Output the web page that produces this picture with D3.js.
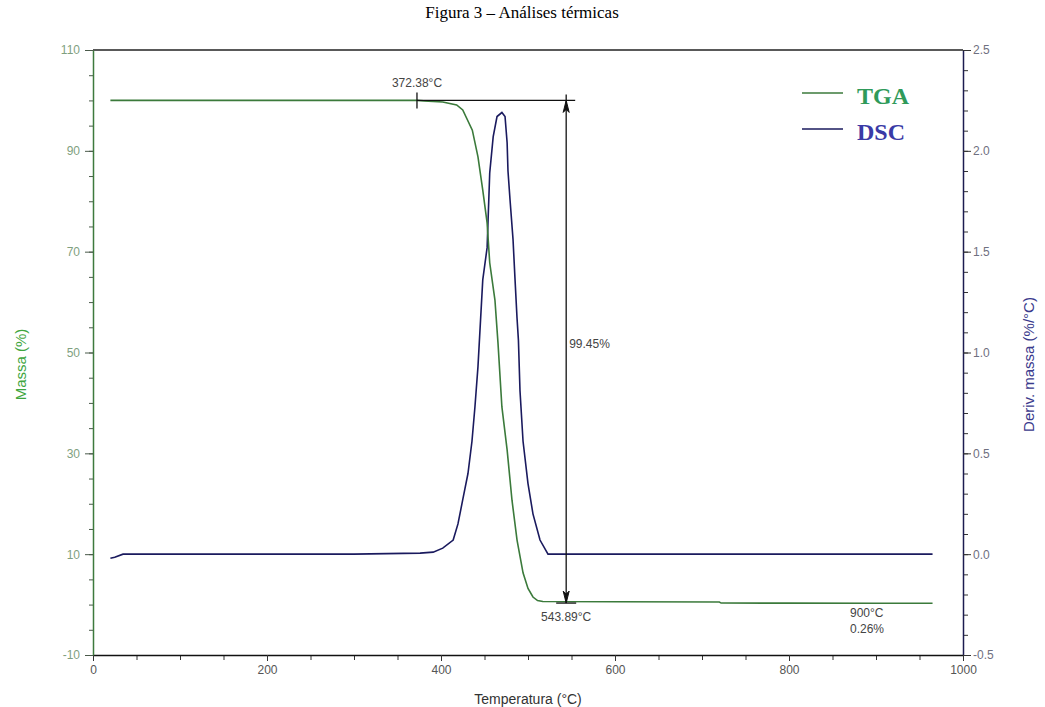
<!DOCTYPE html>
<html>
<head>
<meta charset="utf-8">
<title>Figura 3 – Análises térmicas</title>
<script src="https://d3js.org/d3.v7.min.js"></script>
<style>
  body { margin: 0; background: #fff; }
  svg { display: block; }
</style>
</head>
<body>
<div id="chart"></div>
<script>
// TGA curve (temperature in °C, mass in %)
const tgaTemp = [20, 100, 200, 300, 372.4, 380, 402, 418, 425, 436, 442.5, 448, 453, 456, 462, 465.5, 470, 476, 481.6, 487.4, 494.3, 500, 505.7, 511, 517, 600, 720, 722, 800, 900, 965];
const tgaMass = [100, 100, 100, 100, 100, 99.9, 99.7, 99.1, 98.1, 94.1, 88.8, 82.2, 75.7, 67.8, 60.4, 51.9, 39.2, 30.7, 20.7, 12.8, 6.3, 3.2, 1.5, 0.8, 0.6, 0.55, 0.5, 0.3, 0.28, 0.26, 0.26];

// DSC / derivative curve (temperature in °C, %/°C)
const dscTemp = [20, 25, 34.5, 100, 200, 300, 376, 391, 402, 414, 419.5, 425, 431, 435.6, 439, 442.5, 448, 453, 456, 460, 464.4, 470, 473.6, 476, 477, 479.3, 482.8, 485, 487.4, 489, 490.8, 494.3, 500, 505.7, 513.8, 523, 600, 700, 800, 900, 965];
const dscDeriv = [-0.02, -0.015, 0, 0, 0, 0, 0.005, 0.01, 0.03, 0.07, 0.15, 0.27, 0.40, 0.56, 0.73, 0.93, 1.36, 1.52, 1.89, 2.07, 2.17, 2.19, 2.17, 2.04, 1.90, 1.76, 1.56, 1.37, 1.17, 1.06, 0.81, 0.56, 0.35, 0.20, 0.07, 0.0, 0, 0, 0, 0, 0];

// axes ticks
const xTicks = [0, 200, 400, 600, 800, 1000];
const xMinor = d3.range(0, 1001, 50);
const leftTicks = [-10, 10, 30, 50, 70, 90, 110];
const leftMinor = d3.range(-10, 111, 5);
const rightTicks = [-0.5, 0.0, 0.5, 1.0, 1.5, 2.0, 2.5];
const rightMinor = d3.range(-5, 26, 1).map(d => d / 10);

// annotations
const onsetTemp = 372.38, endTemp = 543.89, massLoss = "99.45%";

const W = 1045, H = 707;
const plot = { left: 93, right: 963, top: 50, bottom: 655 };

const svg = d3.select("#chart").append("svg")
    .attr("width", W).attr("height", H);

const x = d3.scaleLinear().domain([0, 1000]).range([plot.left, plot.right]);
const yL = d3.scaleLinear().domain([-10, 110]).range([plot.bottom, plot.top]);
const yR = d3.scaleLinear().domain([-0.5, 2.5]).range([plot.bottom, plot.top]);

const fontSans = "Liberation Sans, Arial, sans-serif";
const fontSerif = "Liberation Serif, Times New Roman, serif";

// title
svg.append("text")
    .attr("x", 522).attr("y", 18)
    .attr("text-anchor", "middle")
    .style("font-family", fontSerif).style("font-size", "17px")
    .text("Figura 3 – Análises térmicas");

// top border
svg.append("line")
    .attr("x1", plot.left).attr("x2", plot.right)
    .attr("y1", plot.top).attr("y2", plot.top)
    .attr("stroke", "#222").attr("stroke-width", 1.5);

//Bottom axis
svg.append("g")
    .attr("transform", `translate(0,${plot.bottom})`)
    .call(d3.axisBottom(x).tickValues(xMinor).tickSize(5).tickFormat(""))
    .call(g => g.select(".domain").remove())
    .call(g => g.selectAll("line").attr("stroke", "#333"));
const xAxis = svg.append("g")
    .attr("transform", `translate(0,${plot.bottom})`)
    .call(d3.axisBottom(x).tickValues(xTicks).tickSize(6).tickPadding(4).tickSizeOuter(0).tickFormat(d => String(d)));
xAxis.select(".domain").attr("stroke", "#111").attr("stroke-width", 1.5);
xAxis.selectAll("line").attr("stroke", "#333");
xAxis.selectAll("text").attr("fill", "#555").style("font-family", fontSans).style("font-size", "12px");

//Left axis
svg.append("g")
    .attr("transform", `translate(${plot.left},0)`)
    .call(d3.axisLeft(yL).tickValues(leftMinor).tickSize(4).tickFormat(""))
    .call(g => g.select(".domain").remove())
    .call(g => g.selectAll("line").attr("stroke", "#4a5a4a"));
const lAxis = svg.append("g")
    .attr("transform", `translate(${plot.left},0)`)
    .call(d3.axisLeft(yL).tickValues(leftTicks).tickSize(8).tickPadding(5).tickSizeOuter(0).tickFormat(d => String(d)));
lAxis.select(".domain").attr("stroke", "#3d7a3d").attr("stroke-width", 1.5);
lAxis.selectAll("line").attr("stroke", "#4a5a4a");
lAxis.selectAll("text").attr("fill", "#7f9f7f").style("font-family", fontSans).style("font-size", "12px");

//Right axis
svg.append("g")
    .attr("transform", `translate(${plot.right},0)`)
    .call(d3.axisRight(yR).tickValues(rightMinor).tickSize(5).tickFormat(""))
    .call(g => g.select(".domain").remove())
    .call(g => g.selectAll("line").attr("stroke", "#333"));
const rAxis = svg.append("g")
    .attr("transform", `translate(${plot.right},0)`)
    .call(d3.axisRight(yR).tickValues(rightTicks).tickSize(8).tickPadding(2).tickSizeOuter(0).tickFormat(d => d.toFixed(1)));
rAxis.select(".domain").attr("stroke", "#1c1c50").attr("stroke-width", 1.5);
rAxis.selectAll("line").attr("stroke", "#333");
rAxis.selectAll("text").attr("fill", "#6f7080").style("font-family", fontSans).style("font-size", "12px");

// axis titles
svg.append("text")
    .attr("transform", `translate(26,${(plot.top + plot.bottom) / 2 + 12}) rotate(-90)`)
    .attr("text-anchor", "middle")
    .attr("fill", "#3fa63f")
    .style("font-family", fontSans).style("font-size", "15px")
    .text("Massa (%)");
svg.append("text")
    .attr("transform", `translate(1034,${(plot.top + plot.bottom) / 2 + 12}) rotate(-90)`)
    .attr("text-anchor", "middle")
    .attr("fill", "#3a3a8c")
    .style("font-family", fontSans).style("font-size", "15px")
    .text("Deriv. massa (%/°C)");
svg.append("text")
    .attr("x", 528).attr("y", 704)
    .attr("text-anchor", "middle")
    .attr("fill", "#333")
    .style("font-family", fontSans).style("font-size", "14px")
    .text("Temperatura (°C)");

// curves
const tgaData = tgaTemp.map((t, i) => ({ t, v: tgaMass[i] }));
const dscData = dscTemp.map((t, i) => ({ t, v: dscDeriv[i] }));

svg.append("path")
    .datum(dscData)
    .attr("fill", "none").attr("stroke", "#1a1a5e").attr("stroke-width", 1.6)
    .attr("d", d3.line().x(d => x(d.t)).y(d => yR(d.v)));

svg.append("path")
    .datum(tgaData)
    .attr("fill", "none").attr("stroke", "#3b7a3b").attr("stroke-width", 1.6)
    .attr("d", d3.line().x(d => x(d.t)).y(d => yL(d.v)));

// annotations
const ann = svg.append("g").attr("stroke", "#111");
const yTop = yL(100), yBot = yL(0.3);
ann.append("line")
    .attr("x1", x(onsetTemp)).attr("x2", x(endTemp) + 9)
    .attr("y1", yTop).attr("y2", yTop).attr("stroke-width", 1.3);
ann.append("line")
    .attr("x1", x(onsetTemp)).attr("x2", x(onsetTemp))
    .attr("y1", yTop - 8).attr("y2", yTop + 8).attr("stroke-width", 1.3);
ann.append("line")
    .attr("x1", x(endTemp)).attr("x2", x(endTemp))
    .attr("y1", yTop - 6).attr("y2", yBot).attr("stroke-width", 1.3);
ann.append("line")
    .attr("x1", x(endTemp) - 10).attr("x2", x(endTemp) + 10)
    .attr("y1", yBot).attr("y2", yBot).attr("stroke-width", 1.3);
// arrow heads
ann.append("path")
    .attr("d", `M${x(endTemp)},${yTop} l-3,12 l3,-3 l3,3 z`)
    .attr("fill", "#111").attr("stroke-width", 1);
ann.append("path")
    .attr("d", `M${x(endTemp)},${yBot} l-3,-12 l3,3 l3,-3 z`)
    .attr("fill", "#111").attr("stroke-width", 1);

const annText = (tx, ty, str, anchor) => svg.append("text")
    .attr("x", tx).attr("y", ty)
    .attr("text-anchor", anchor)
    .attr("fill", "#444")
    .style("font-family", fontSans).style("font-size", "12px")
    .text(str);
annText(x(onsetTemp), yTop - 13, onsetTemp.toFixed(2) + "°C", "middle");
annText(x(endTemp), yBot + 18, endTemp.toFixed(2) + "°C", "middle");
annText(x(endTemp) + 3, yL(50) - 5, massLoss, "start");
annText(850, 617, "900°C", "start");
annText(850, 633, "0.26%", "start");

// legend
const legend = [
    { name: "TGA", color: "#2f9a5a", line: "#3b7a3b", y: 93 },
    { name: "DSC", color: "#3a3aa6", line: "#1a1a5e", y: 129 }
];
legend.forEach(d => {
    svg.append("line")
        .attr("x1", 802).attr("x2", 843)
        .attr("y1", d.y).attr("y2", d.y)
        .attr("stroke", d.line).attr("stroke-width", 1.5);
    svg.append("text")
        .attr("x", 857).attr("y", d.y + 11)
        .attr("fill", d.color)
        .style("font-family", fontSerif).style("font-size", "24px").style("font-weight", "bold")
        .text(d.name);
});
</script>
</body>
</html>
